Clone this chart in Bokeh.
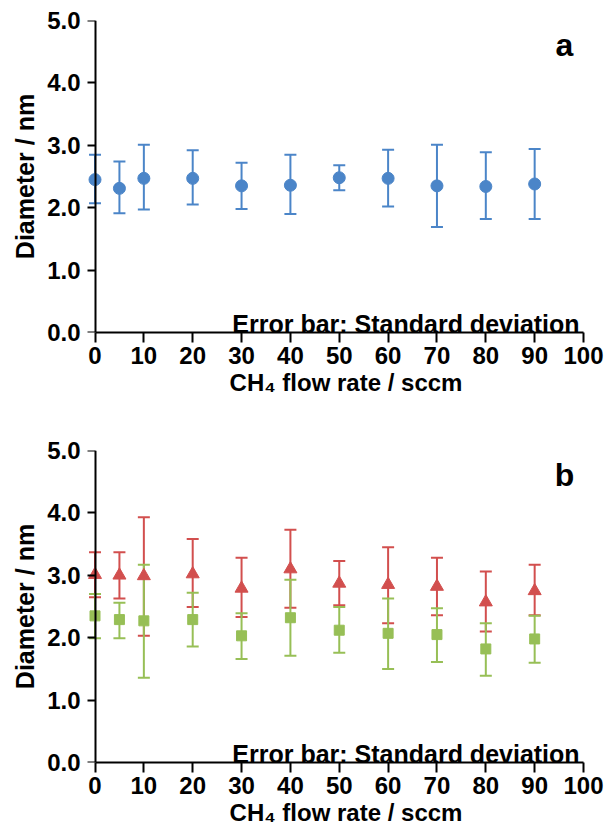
from bokeh.plotting import figure
from bokeh.layouts import column
from bokeh.models import Range1d, FixedTicker, Label, LinearAxis
from bokeh.embed import file_html
from bokeh.resources import INLINE

# ---------------- data ----------------
flow = [0, 5, 10, 20, 30, 40, 50, 60, 70, 80, 90]

# panel a (blue circles)
a_mean = [2.45, 2.31, 2.47, 2.47, 2.35, 2.36, 2.48, 2.47, 2.35, 2.34, 2.38]
a_upper = [2.85, 2.74, 3.01, 2.92, 2.72, 2.85, 2.68, 2.93, 3.01, 2.89, 2.94]
a_lower = [2.07, 1.91, 1.97, 2.05, 1.98, 1.90, 2.28, 2.02, 1.69, 1.82, 1.82]

# panel b (red triangles)
r_mean = [3.01, 3.00, 2.99, 3.02, 2.79, 3.10, 2.87, 2.85, 2.82, 2.57, 2.75]
r_upper = [3.37, 3.37, 3.93, 3.58, 3.28, 3.73, 3.23, 3.45, 3.28, 3.06, 3.17]
r_lower = [2.65, 2.63, 2.03, 2.49, 2.33, 2.48, 2.52, 2.23, 2.36, 2.10, 2.36]

# panel b (green squares)
g_mean = [2.35, 2.29, 2.27, 2.29, 2.03, 2.32, 2.12, 2.07, 2.05, 1.82, 1.98]
g_upper = [2.70, 2.56, 3.17, 2.72, 2.39, 2.93, 2.49, 2.63, 2.47, 2.23, 2.35]
g_lower = [1.99, 1.99, 1.36, 1.86, 1.66, 1.71, 1.76, 1.50, 1.61, 1.39, 1.60]

x_ticks = [0, 10, 20, 30, 40, 50, 60, 70, 80, 90, 100]
y_ticks = [0, 1, 2, 3, 4, 5]
y_tick_labels = ["0.0", "1.0", "2.0", "3.0", "4.0", "5.0"]

x_title = "CH\u2084 flow rate / sccm"
y_title = "Diameter / nm"
note_text = "Error bar: Standard deviation"

BLUE = "#4B85C8"
RED = "#D24F4E"
GREEN = "#97BF56"
FONT = "Liberation Sans"


def make_panel(height, border_bottom, letter):
    p = figure(width=605, height=height, output_backend="svg", toolbar_location=None,
               x_range=Range1d(-1.74, 104.5), y_range=Range1d(0, 5),
               min_border_left=86, min_border_right=0, min_border_top=20,
               min_border_bottom=border_bottom)
    p.outline_line_color = None
    p.grid.visible = False
    p.background_fill_color = "white"
    p.border_fill_color = "white"

    xa = p.xaxis[0]
    xa.ticker = FixedTicker(ticks=x_ticks, minor_ticks=[])
    xa.bounds = (0, 100)
    xa.axis_line_width = 2
    xa.major_tick_line_width = 2
    xa.major_tick_out = 10
    xa.major_tick_in = 0
    xa.minor_tick_out = 0
    xa.minor_tick_in = 0
    xa.major_label_standoff = 4
    xa.major_label_text_font = FONT
    xa.major_label_text_font_style = "bold"
    xa.major_label_text_font_size = "24px"
    xa.major_label_text_color = "black"
    xa.axis_label = x_title
    xa.axis_label_text_font = FONT
    xa.axis_label_text_font_style = "bold"
    xa.axis_label_text_font_size = "24px"
    xa.axis_label_text_color = "black"
    xa.axis_label_standoff = 2

    # labels + title of the y axis (at the frame's left edge)
    ya = p.yaxis[0]
    ya.ticker = FixedTicker(ticks=y_ticks, minor_ticks=[])
    ya.major_label_overrides = {t: s for t, s in zip(y_ticks, y_tick_labels)}
    ya.axis_line_color = None
    ya.major_tick_line_color = None
    ya.minor_tick_line_color = None
    ya.major_tick_out = 0
    ya.major_tick_in = 0
    ya.minor_tick_out = 0
    ya.minor_tick_in = 0
    ya.major_label_standoff = 6
    ya.major_label_text_font = FONT
    ya.major_label_text_font_style = "bold"
    ya.major_label_text_font_size = "24px"
    ya.major_label_text_color = "black"
    ya.axis_label = y_title
    ya.axis_label_text_font = FONT
    ya.axis_label_text_font_style = "bold"
    ya.axis_label_text_font_size = "25px"
    ya.axis_label_text_color = "black"
    ya.axis_label_standoff = 5

    # axis line + ticks drawn through x = 0 (no labels of its own)
    yline = LinearAxis(fixed_location=0,
                       ticker=FixedTicker(ticks=y_ticks, minor_ticks=[]),
                       axis_line_width=2, major_tick_line_width=2,
                       major_tick_out=8, major_tick_in=0,
                       minor_tick_out=0, minor_tick_in=0,
                       major_label_standoff=0, major_label_text_font_size="1px",
                       major_label_text_color=None)
    p.add_layout(yline, "left")

    p.add_layout(Label(x=96.1, y=4.6, text=letter, text_font=FONT, text_font_style="bold",
                       text_font_size="32px", text_align="center",
                       text_baseline="alphabetic", text_color="black"))
    p.add_layout(Label(x=99.2, y=0.14, text=note_text, text_font=FONT,
                       text_font_style="bold", text_font_size="25px", text_align="right",
                       text_baseline="alphabetic", text_color="black"))
    return p


def error_bars(p, x, lower, upper, color):
    p.segment(x0=x, y0=lower, x1=x, y1=upper, line_color=color, line_width=2)
    p.scatter(x, upper, marker="dash", size=12, line_color=color, line_width=2)
    p.scatter(x, lower, marker="dash", size=12, line_color=color, line_width=2)


pa = make_panel(430, 98, "a")
error_bars(pa, flow, a_lower, a_upper, BLUE)
pa.scatter(flow, a_mean, marker="circle", size=12, fill_color=BLUE, line_color=BLUE)

pb = make_panel(401, 69, "b")
error_bars(pb, flow, r_lower, r_upper, RED)
error_bars(pb, flow, g_lower, g_upper, GREEN)
pb.scatter(flow, r_mean, marker="triangle", size=13, fill_color=RED, line_color=RED)
pb.scatter(flow, g_mean, marker="square", size=10, fill_color=GREEN, line_color=GREEN)

layout = column(pa, pb, spacing=0)
open("out.html", "w").write(file_html(layout, INLINE))
